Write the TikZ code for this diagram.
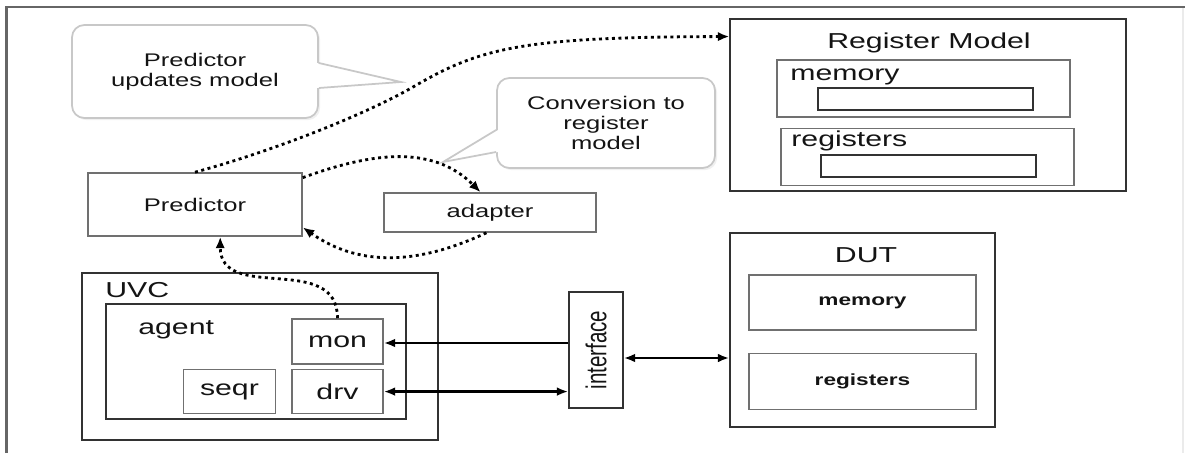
\documentclass[tikz,border=0pt]{standalone}
\usepackage{fontspec}
\usepackage{graphicx}
\setmainfont[FakeStretch=1.4]{Liberation Sans}
\newfontfamily\narrowsans{Liberation Sans}
\usetikzlibrary{arrows.meta,calc,positioning,shadows}
\definecolor{uvmdark}{RGB}{50,50,50}
\definecolor{uvmgray}{RGB}{112,112,112}
\definecolor{uvmframe}{RGB}{102,102,102}
\definecolor{uvmnote}{RGB}{200,200,200}
\definecolor{uvmtext}{RGB}{20,20,20}

\tikzset{
  outerbox/.style={draw=uvmdark,line width=0.9pt,inner sep=0pt},
  innerbox/.style={draw=uvmgray,line width=0.9pt,inner sep=0pt},
  note/.style={draw=uvmnote,line width=1pt,rounded corners=7pt,fill=white,inner sep=0pt,
    drop shadow={opacity=0.12,shadow xshift=1.2pt,shadow yshift=-1.2pt}},
  bigtxt/.style={font=\fontsize{12.3}{14}\selectfont},
  midtxt/.style={font=\fontsize{10.4}{11.3}\selectfont},
  boldtxt/.style={font=\fontsize{9.2}{11}\selectfont\bfseries},
  flow/.style={-{Latex[length=6.5pt,width=5.4pt]},line width=1.6pt,dash pattern=on 1.7pt off 2pt},
  wire/.style={line width=1.3pt}
}

\begin{document}
\begin{tikzpicture}[x=0.02cm,y=-0.02cm,>={Latex[length=6.5pt,width=5pt]},every node/.style={align=center,text=uvmtext}]
  \useasboundingbox (0,0) rectangle (1185,453);
  \draw[uvmframe,line width=1.2pt] (6.5,453) -- (6.5,7) -- (1185,7);
  \draw[black!8,line width=0.8pt] (1183,8) -- (1183,453);

  % register model
  \node[outerbox,minimum width=7.92cm,minimum height=3.44cm] (rm) at (928,105) {};
  \node[bigtxt,anchor=base,inner sep=0pt] (rmtitle) at (929,48) {Register Model};
  \node[innerbox,minimum width=5.86cm,minimum height=1.14cm] (rmem) at (923.5,88.5) {};
  \node[innerbox,minimum width=5.86cm,minimum height=1.14cm,below=0.2cm of rmem,xshift=0.08cm] (rreg) {};
  \node[bigtxt,anchor=base west,inner sep=0pt] (rmemlbl) at (790,80) {memory};
  \node[bigtxt,anchor=base west,inner sep=0pt] (rreglbl) at (791,146.5) {registers};
  \node[outerbox,minimum width=4.3cm,minimum height=0.44cm] (rmemfld) at (925.5,99) {};
  \node[outerbox,minimum width=4.3cm,minimum height=0.44cm] (rregfld) at (928.5,166) {};

  % DUT
  \node[outerbox,minimum width=5.3cm,minimum height=3.88cm] (dut) at (862.5,330) {};
  \node[bigtxt,anchor=base,inner sep=0pt] (duttitle) at (866,262) {DUT};
  \node[innerbox,boldtxt,minimum width=4.54cm,minimum height=1.1cm] (dutmem) at (862.5,302.5) {memory};
  \node[innerbox,boldtxt,minimum width=4.54cm,minimum height=1.12cm,below=0.44cm of dutmem] (dutreg) {registers};

  % UVC
  \node[outerbox,minimum width=7.12cm,minimum height=3.34cm] (uvc) at (260,356.5) {};
  \node[bigtxt,anchor=base west,inner sep=0pt] (uvclbl) at (105,297) {UVC};
  \node[outerbox,minimum width=6cm,minimum height=2.3cm] (agent) at (256,361.5) {};
  \node[bigtxt,anchor=base west,inner sep=0pt] (agentlbl) at (138,334) {agent};
  \node[innerbox,bigtxt,minimum width=1.82cm,minimum height=0.9cm] (mon) at (337.5,341.5) {mon};
  \node[innerbox,bigtxt,minimum width=1.82cm,minimum height=0.88cm,below=0.08cm of mon] (drv) {drv};
  \node[innerbox,bigtxt,minimum width=1.84cm,minimum height=0.88cm,left=0.3cm of drv] (seqr) {seqr};

  \node[outerbox,minimum width=1.08cm,minimum height=2.32cm] (intf) at (596,350) {};
  \node[rotate=90,inner sep=0pt] (intflbl) at (intf.center) {\scalebox{1}[1.4]{\narrowsans\fontsize{11.7}{13}\selectfont interface}};

  \node[innerbox,midtxt,minimum width=4.28cm,minimum height=1.26cm] (pred) at (195,204.5) {Predictor};
  \node[innerbox,midtxt,minimum width=4.24cm,minimum height=0.78cm] (adapt) at (490,212.5) {adapter};

  % callouts
  \node[note,midtxt,minimum width=4.92cm,minimum height=1.86cm] (note1) at (195,71.5) {Predictor\\updates model};
  \coordinate (note1tip) at (401,82);
  \fill[white] ($(note1.east)+(-2,-8.5)$) -- (note1tip) -- ($(note1.east)+(-2,16.5)$) -- cycle;
  \draw[uvmnote,line width=1pt] ($(note1.east)+(0,-8.5)$) -- (note1tip) -- ($(note1.east)+(0,16.5)$);

  \node[note,midtxt,minimum width=4.36cm,minimum height=1.8cm] (note2) at (606,123) {Conversion to\\register\\model};
  \coordinate (note2tip) at (443,162);
  \fill[white] ($(note2.west)+(2,7)$) -- (note2tip) -- ($(note2.west)+(2,29)$) -- cycle;
  \draw[uvmnote,line width=1pt] ($(note2.west)+(0,7)$) -- (note2tip) -- ($(note2.west)+(0,29)$);

  % connections
  \coordinate (monport) at ($(mon.east)+(0,1.5)$);
  \draw[wire,->] (monport -| intf.west) -- (monport);
  \draw[wire,<->] (drv.east) -- (drv.east -| intf.west);
  \coordinate (ifport) at ($(intf.east)+(0,8)$);
  \draw[wire,<->] (ifport) -- (ifport -| dut.west);

  \draw[flow] (pred.north) .. controls (280,149) and (370,112) .. (413,87) .. controls (480,48) and (520,37) .. (rm.161);
  \draw[flow] (pred.14) to[out=20,in=135] (adapt.115);
  \draw[flow] (adapt.-100) to[out=-155,in=-35] (pred.-12);
  \draw[flow] (mon.north) to[out=90,in=-90,looseness=1.2] (pred.-52);
\end{tikzpicture}
\end{document}
